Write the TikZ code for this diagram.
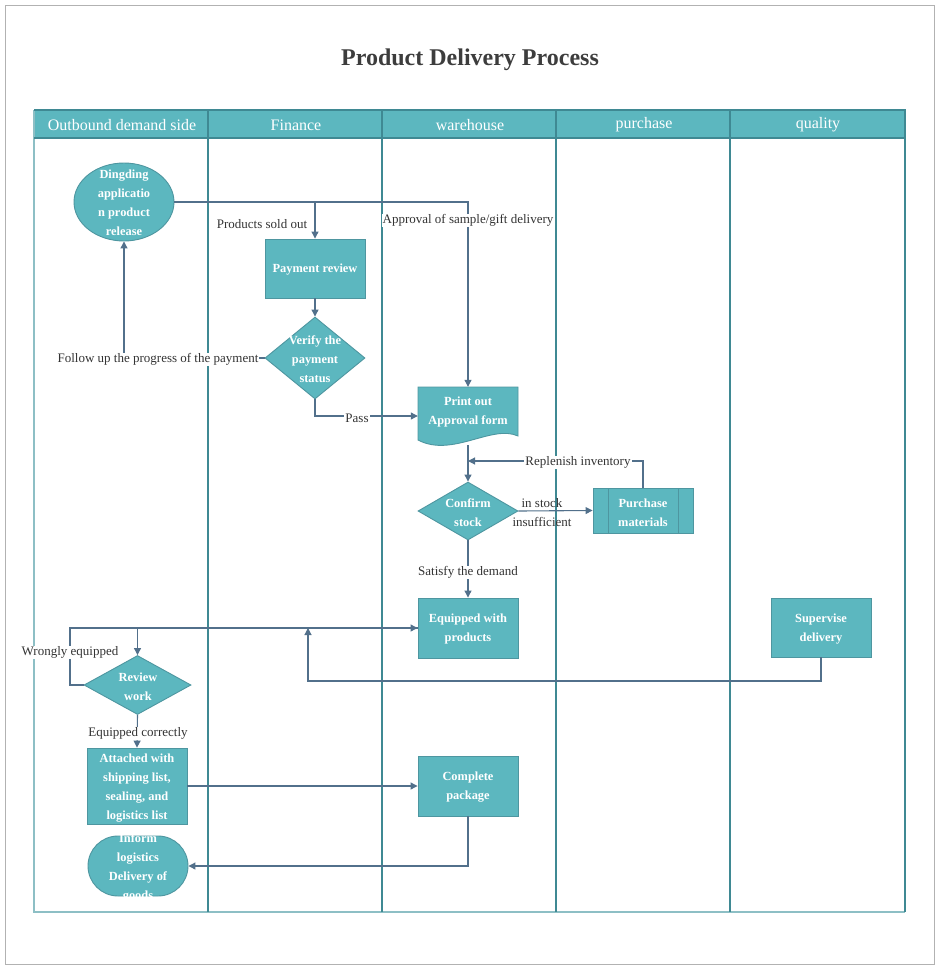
\documentclass[tikz,border=0pt]{standalone}
\usepackage{fontspec}
\setmainfont{Liberation Serif}
\usetikzlibrary{shapes.geometric,arrows.meta}
\definecolor{tealfill}{HTML}{5CB7BF}
\definecolor{tealborder}{HTML}{4E96A0}
\definecolor{laneline}{HTML}{3F8993}
\definecolor{lanelight}{HTML}{8DBFC5}
\definecolor{conn}{HTML}{52708B}
\definecolor{labelgray}{HTML}{333333}
\definecolor{titlegray}{HTML}{3D3D3D}
\begin{document}
\begin{tikzpicture}[x=1pt,y=-1pt,
  shapebase/.style={draw=tealborder, fill=tealfill, line width=0.9pt, inner sep=0pt},
  boxnode/.style={shapebase, rectangle, minimum width=100pt},
  dianode/.style={shapebase, diamond, minimum width=100pt},
  ellnode/.style={shapebase, ellipse, minimum width=100pt, minimum height=78pt},
  ntext/.style={text=white, font=\bfseries\fontsize{12.4}{19}\selectfont, align=center, inner sep=0pt},
  lbl/.style={text=labelgray, font=\fontsize{13}{19}\selectfont, align=center, inner sep=1pt},
  lblw/.style={lbl, fill=white},
  hdr/.style={text=white, font=\fontsize{16}{18}\selectfont},
  lane/.style={draw=laneline, line width=1.3pt},
  arr/.style={draw=conn, line width=1.1pt, -{Triangle[length=7pt,width=7pt]}},
  plain/.style={draw=conn, line width=1.1pt}
]
\useasboundingbox (0,0) rectangle (939,969);
\draw[draw=black!30, line width=1pt] (5,5) rectangle (934,964);

\node[font=\bfseries\fontsize{24}{28}\selectfont, text=titlegray] (title) at (470,60) {Product Delivery Process};

% pool and lanes
\fill[tealfill] (34,110) rectangle (905,138);
\draw[draw=lanelight, line width=1.5pt] (34,110) -- (34,912) -- (905,912);
\draw[lane] (34,110) -- (905,110) -- (905,912);
\draw[lane] (34,138) -- (905,138);
\foreach \x in {208,382,556,730} { \draw[lane] (\x,110) -- (\x,912); }
\node[hdr] (h1) at (122,125) {Outbound demand side};
\node[hdr] (h2) at (296,125) {Finance};
\node[hdr] (h3) at (470,125) {warehouse};
\node[hdr] (h4) at (644,125) {purchase};
\node[hdr] (h5) at (818,125) {quality};

% nodes
\node[ellnode] (ding) at (124,202) {};
\node[ntext] (dingt) at (124,203) {Dingding\\applicatio\\n product\\release};

\node[boxnode, minimum height=59pt] (pay) at (315,268.5) {};
\node[ntext] (payt) at (315,270) {Payment review};

\node[dianode, minimum height=82pt] (verify) at (315,358) {};
\node[ntext] (verifyt) at (315,359.5) {Verify the\\payment\\status};

\node[rectangle, minimum width=100pt, minimum height=58pt, inner sep=0pt] (print) at (468,416) {};
\draw[draw=tealborder, fill=tealfill, line width=0.9pt]
  (418,387) -- (518,387) -- (518,436)
  .. controls (492,424) and (452,458) .. (418,440) -- cycle;
\node[ntext] (printt) at (468,412) {Print out\\Approval form};

\node[dianode, minimum height=58pt] (confirm) at (468,511) {};
\node[ntext] (confirmt) at (468,512.5) {Confirm\\stock};

\node[boxnode, minimum height=45pt] (purch) at (643,510.5) {};
\draw[draw=tealborder, line width=0.9pt] (608,488) -- (608,533) (678,488) -- (678,533);
\node[ntext] (purcht) at (643,512.5) {Purchase\\materials};

\node[boxnode, minimum height=60pt] (equip) at (468,628) {};
\node[ntext] (equipt) at (468,629.5) {Equipped with\\products};

\node[boxnode, minimum height=59pt] (sup) at (821,627.5) {};
\node[ntext] (supt) at (821,629.5) {Supervise\\delivery};

\node[dianode, minimum width=107pt, minimum height=59pt] (review) at (137.5,685) {};
\node[ntext] (reviewt) at (138,686.5) {Review\\work};

\node[boxnode, minimum height=76pt] (attach) at (137,786) {};
\node[ntext] (attacht) at (137,788) {Attached with\\shipping list,\\sealing, and\\logistics list};

\node[boxnode, minimum height=60pt] (complete) at (468,786) {};
\node[ntext] (completet) at (468,787.5) {Complete\\package};

\node[shapebase, rectangle, minimum width=100pt, minimum height=60pt, rounded corners=30pt] (inform) at (138,866) {};
\node[ntext] (informt) at (138,867.5) {Inform\\logistics\\Delivery of\\goods};

% helper coordinates
\coordinate (rep) at (468,461);
\coordinate (wr) at (70,628);
\coordinate (svturn) at (308,681);
\coordinate (svup) at (308,628);

% connectors
\draw[arr] (ding.east) -| (pay.north);
\draw[arr] (ding.east) -| (print.north);
\draw[arr] (pay.south) -- (verify.north);
\draw[arr] (verify.west) -| (ding.south);
\draw[arr] (verify.south) |- (print.west);
\draw[arr] (print.south) -- (confirm.north);
\draw[arr] (purch.north) |- (rep);
\draw[arr] (confirm.east) -- (purch.west);
\draw[arr] (confirm.south) -- (equip.north);
\draw[arr] (equip.west) -| (review.north);
\draw[arr] (review.west) -| (wr) -- (equip.west);
\draw[arr] (sup.south) |- (svturn) -- (svup);
\draw[arr] (review.south) -- (attach.north);
\draw[arr] (attach.east) -- (complete.west);
\draw[arr] (complete.south) |- (inform.east);

% labels
\node[lbl] (l1) at (262,224.5) {Products sold out};
\node[lblw] (l2) at (468,220.5) {Approval of sample/gift delivery};
\node[lblw] (l3) at (158,359.5) {Follow up the progress of the payment};
\node[lblw] (l4) at (357,418.5) {Pass};
\node[lblw] (l5) at (578,462.5) {Replenish inventory};
\node[lbl] (l6) at (542,512.5) {in stock\\insufficient};
\node[lblw] (l7) at (468,572.5) {Satisfy the demand};
\node[lblw] (l8) at (70,652.5) {Wrongly equipped};
\node[lblw] (l9) at (138,733.5) {Equipped correctly};
\end{tikzpicture}
\end{document}
